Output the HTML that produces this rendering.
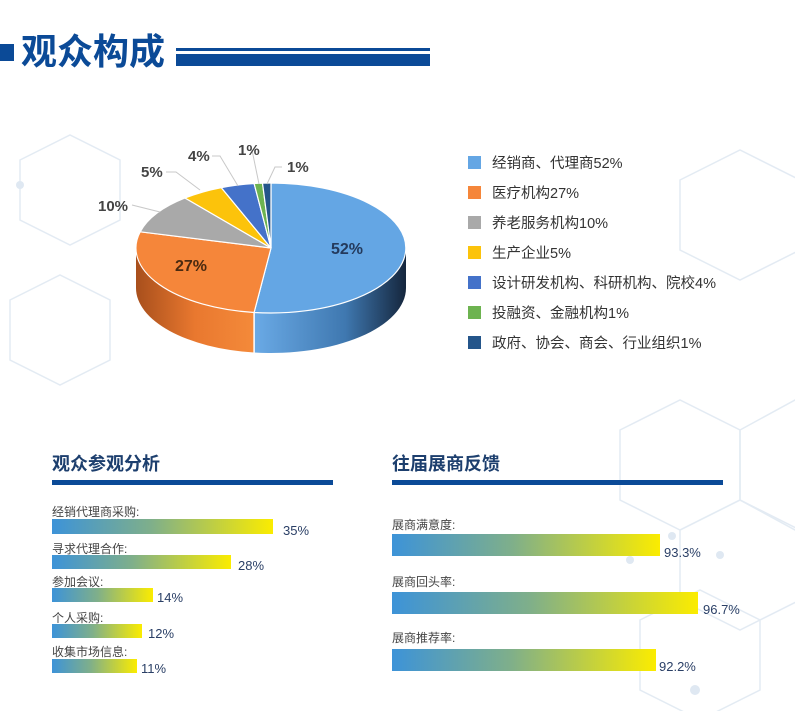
<!DOCTYPE html>
<html><head><meta charset="utf-8"><style>
html,body{margin:0;padding:0;background:#fff;}
svg text{font-family:"Liberation Sans","Noto Sans CJK SC",sans-serif;}
</style></head><body>
<svg width="795" height="711" viewBox="0 0 795 711" xmlns="http://www.w3.org/2000/svg">
<defs>
<linearGradient id="bs" x1="0" x2="1" y1="0" y2="0"><stop offset="0" stop-color="#6aaae6"/><stop offset="0.6" stop-color="#3f78b0"/><stop offset="1" stop-color="#15263d"/></linearGradient>
<linearGradient id="os" x1="0" x2="1" y1="0" y2="0"><stop offset="0" stop-color="#a84f1c"/><stop offset="0.5" stop-color="#e9782f"/><stop offset="1" stop-color="#f48a3a"/></linearGradient>
<linearGradient id="bar" x1="0" x2="1" y1="0" y2="0"><stop offset="0" stop-color="#3d93d8"/><stop offset="0.45" stop-color="#7faf8a"/><stop offset="1" stop-color="#fbec00"/></linearGradient>
</defs>
<g fill="none" stroke="#e3ebf3" stroke-width="1.5">
<polygon points="620,430 680,400 740,430 740,500 680,530 620,500"/>
<polygon points="740,430 795,400 850,430 850,500 795,530 740,500"/>
<polygon points="680,530 740,500 800,530 800,600 740,630 680,600"/>
<polygon points="640,620 700,590 760,620 760,690 700,720 640,690"/>
<polygon points="20,160 70,135 120,160 120,220 70,245 20,220"/>
<polygon points="680,180 740,150 800,180 800,250 740,280 680,250"/>
<polygon points="10,300 60,275 110,300 110,360 60,385 10,360"/>
</g>
<g fill="#dfe8f2"><circle cx="672" cy="536" r="4"/><circle cx="630" cy="560" r="4"/><circle cx="720" cy="555" r="4"/><circle cx="695" cy="690" r="5"/><circle cx="20" cy="185" r="4"/></g>
<rect x="0" y="44" width="14" height="17" fill="#0b4a97"/>
<text x="21" y="64" font-size="36" font-weight="bold" fill="#0b4a97">观众构成</text>
<rect x="176" y="48" width="254" height="3" fill="#0b4a97"/>
<rect x="176" y="54" width="254" height="12" fill="#0b4a97"/>
<path d="M406,248 A135,65 0 0 1 254.1,312.5 L254.1,352.5 A135,65 0 0 0 406,288 Z" fill="url(#bs)"/>
<path d="M254.1,312.5 A135,65 0 0 1 136,248 L136,288 A135,65 0 0 0 254.1,352.5 Z" fill="url(#os)"/>
<line x1="254.1" y1="312.5" x2="254.1" y2="352.5" stroke="#fff" stroke-width="1.5"/>
<g stroke="#fff" stroke-width="1.2">
<path d="M271,248 L271,183 A135,65 0 1 1 254.1,312.5 Z" fill="#64a6e4"/>
<path d="M271,248 L254.1,312.5 A135,65 0 0 1 140.2,231.8 Z" fill="#f5863a"/>
<path d="M271,248 L140.2,231.8 A135,65 0 0 1 185,198 Z" fill="#a9a9a9"/>
<path d="M271,248 L185,198 A135,65 0 0 1 221.3,187.6 Z" fill="#fcc30b"/>
<path d="M271,248 L221.3,187.6 A135,65 0 0 1 254.1,183.5 Z" fill="#4472c9"/>
<path d="M271,248 L254.1,183.5 A135,65 0 0 1 262.5,183.1 Z" fill="#6db350"/>
<path d="M271,248 L262.5,183.1 A135,65 0 0 1 271,183 Z" fill="#24558a"/>
</g>
<text x="347" y="254" font-size="16" font-weight="bold" fill="#243a5c" text-anchor="middle">52%</text>
<text x="191" y="271" font-size="16" font-weight="bold" fill="#4a2a10" text-anchor="middle">27%</text>
<g stroke="#c8c8c8" fill="none" stroke-width="1">
<polyline points="132,205 160,212"/>
<polyline points="166,172 176,172 200,190"/>
<polyline points="212,156 220,156 238,186"/>
<polyline points="252,150 259,184"/>
<polyline points="282,167 275,167 267,184"/>
</g>
<g font-size="15" font-weight="bold" fill="#444">
<text x="98" y="211">10%</text>
<text x="141" y="177">5%</text>
<text x="188" y="161">4%</text>
<text x="238" y="155">1%</text>
<text x="287" y="172">1%</text>
</g>
<g font-size="14.5" fill="#333">
<rect x="468" y="156" width="13" height="13" fill="#64a6e4"/><text x="492" y="168">经销商、代理商52%</text>
<rect x="468" y="186" width="13" height="13" fill="#f5863a"/><text x="492" y="198">医疗机构27%</text>
<rect x="468" y="216" width="13" height="13" fill="#a9a9a9"/><text x="492" y="228">养老服务机构10%</text>
<rect x="468" y="246" width="13" height="13" fill="#fcc30b"/><text x="492" y="258">生产企业5%</text>
<rect x="468" y="276" width="13" height="13" fill="#4472c9"/><text x="492" y="288">设计研发机构、科研机构、院校4%</text>
<rect x="468" y="306" width="13" height="13" fill="#6db350"/><text x="492" y="318">投融资、金融机构1%</text>
<rect x="468" y="336" width="13" height="13" fill="#24558a"/><text x="492" y="348">政府、协会、商会、行业组织1%</text>
</g>
<text x="52" y="470" font-size="18" font-weight="bold" fill="#1d3f6e">观众参观分析</text>
<rect x="52" y="480" width="281" height="5" fill="#0b4a97"/>
<g font-size="12" fill="#444">
<text x="52" y="516">经销代理商采购:</text>
<text x="52" y="553">寻求代理合作:</text>
<text x="52" y="586">参加会议:</text>
<text x="52" y="622">个人采购:</text>
<text x="52" y="656">收集市场信息:</text>
</g>
<rect x="52" y="519" width="221" height="15" fill="url(#bar)"/>
<rect x="52" y="555" width="179" height="14" fill="url(#bar)"/>
<rect x="52" y="588" width="101" height="14" fill="url(#bar)"/>
<rect x="52" y="624" width="90" height="14" fill="url(#bar)"/>
<rect x="52" y="659" width="85" height="14" fill="url(#bar)"/>
<g font-size="13" fill="#2a3f66">
<text x="283" y="535">35%</text>
<text x="238" y="570">28%</text>
<text x="157" y="602">14%</text>
<text x="148" y="638">12%</text>
<text x="141" y="673">11%</text>
</g>
<text x="392" y="470" font-size="18" font-weight="bold" fill="#1d3f6e">往届展商反馈</text>
<rect x="392" y="480" width="331" height="5" fill="#0b4a97"/>
<g font-size="12" fill="#444">
<text x="392" y="529">展商满意度:</text>
<text x="392" y="586">展商回头率:</text>
<text x="392" y="642">展商推荐率:</text>
</g>
<rect x="392" y="534" width="268" height="22" fill="url(#bar)"/>
<rect x="392" y="592" width="306" height="22" fill="url(#bar)"/>
<rect x="392" y="649" width="264" height="22" fill="url(#bar)"/>
<g font-size="13" fill="#2a3f66">
<text x="664" y="557">93.3%</text>
<text x="703" y="614">96.7%</text>
<text x="659" y="671">92.2%</text>
</g>
</svg>
</body></html>
